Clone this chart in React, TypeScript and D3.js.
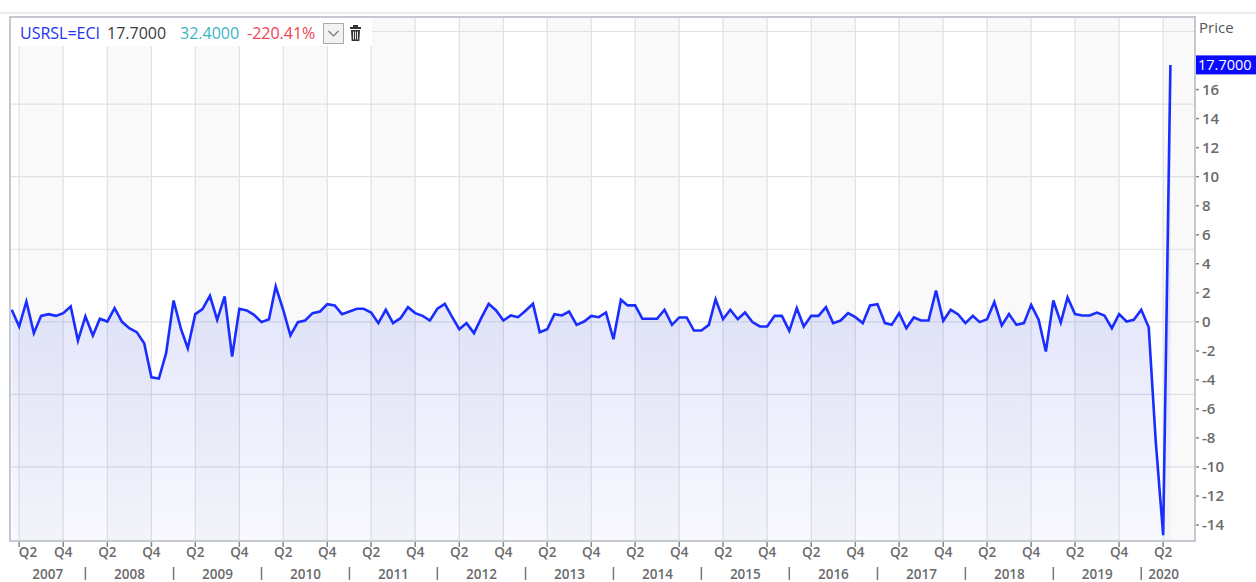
import React, { useRef, useEffect } from "react";
import * as d3 from "d3";

// US retail sales m/m %, monthly from Mar 2007
const startMonth = new Date(Date.UTC(2007, 2, 1));
const values = [
  0.83, -0.32, 1.4, -0.78, 0.41, 0.53, 0.41, 0.6, 1.06, -1.29,
  0.37, -0.94, 0.21, 0.02, 0.94, 0.0, -0.44, -0.71, -1.47, -3.82,
  -3.91, -2.16, 1.47, -0.51, -1.82, 0.53, 0.87, 1.79, 0.14, 1.75,
  -2.39, 0.9, 0.78, 0.48, -0.02, 0.18, 2.44, 0.83, -0.94, -0.02,
  0.09, 0.6, 0.71, 1.22, 1.13, 0.53, 0.71, 0.9, 0.9, 0.64,
  -0.09, 0.83, -0.09, 0.25, 1.01, 0.6, 0.41, 0.09, 0.9, 1.24,
  0.37, -0.51, -0.09, -0.78, 0.25, 1.24, 0.78, 0.09, 0.44, 0.32,
  0.76, 1.24, -0.71, -0.51, 0.53, 0.44, 0.71, -0.21, 0.02, 0.41,
  0.32, 0.64, -1.2, 1.52, 1.13, 1.13, 0.21, 0.21, 0.21, 0.83,
  -0.21, 0.3, 0.3, -0.6, -0.6, -0.21, 1.56, 0.18, 0.83, 0.18,
  0.64, -0.02, -0.32, -0.32, 0.41, 0.41, -0.62, 0.94, -0.32, 0.41,
  0.41, 1.01, -0.09, 0.09, 0.6, 0.32, -0.09, 1.13, 1.22, -0.09,
  -0.21, 0.6, -0.44, 0.3, 0.09, 0.09, 2.16, 0.07, 0.83, 0.53,
  -0.09, 0.41, -0.02, 0.18, 1.36, -0.25, 0.53, -0.21, -0.09, 1.17,
  0.14, -2.05, 1.47, -0.05, 1.68, 0.53, 0.44, 0.44, 0.64, 0.44,
  -0.44, 0.53, 0.02, 0.14, 0.83, -0.37, -8.2, -14.7, 17.7,
];
const yTicks = [-14, -12, -10, -8, -6, -4, -2, 0, 2, 4, 6, 8, 10, 12, 14, 16];
const yGrid = [-10, -5, 0, 5, 10, 15, 20];
const years = d3.range(2007, 2021);
const legend = [
  { text: "USRSL=ECI", color: "#2230f0" },
  { text: "17.7000", color: "#3a3a3a" },
  { text: "32.4000", color: "#3cb4c4" },
  { text: "-220.41%", color: "#ee4455" },
];
const lastLabel = "17.7000";

const W = 1256, H = 582;
const L = 10, R = 1195, T = 17, B = 541;
const FONT = "'Open Sans', 'Liberation Sans', sans-serif";

const App = () => {
  const ref = useRef(null);

  useEffect(() => {
    const svg = d3.select(ref.current);
    svg.selectAll("*").remove();

    const data = values.map((v, i) => ({ date: d3.utcMonth.offset(startMonth, i), v }));
    const x = d3.scaleUtc()
      .domain([data[0].date, data[data.length - 1].date])
      .range([11.7, 1170.4]);
    const y = d3.scaleLinear().domain([-15.1, 21]).range([B, T]);

    const quarterTicks = d3.utcMonth
      .range(new Date(Date.UTC(2007, 0, 1)), new Date(Date.UTC(2020, 6, 1)))
      .filter(d => d.getUTCMonth() === 3 || d.getUTCMonth() === 9)
      .filter(d => x(d) > L && x(d) < R);

    const defs = svg.append("defs");
    defs.append("clipPath").attr("id", "plot")
      .append("rect").attr("x", L).attr("y", T).attr("width", R - L).attr("height", B - T);
    const grad = defs.append("linearGradient").attr("id", "fillg")
      .attr("gradientUnits", "userSpaceOnUse")
      .attr("x1", 0).attr("x2", 0).attr("y1", y(2)).attr("y2", B);
    grad.append("stop").attr("offset", 0).attr("stop-color", "#2a3de0").attr("stop-opacity", 0.13);
    grad.append("stop").attr("offset", 1).attr("stop-color", "#2a3de0").attr("stop-opacity", 0.03);

    // top rule
    svg.append("line").attr("x1", 0).attr("x2", W).attr("y1", 13).attr("y2", 13)
      .attr("stroke", "#d4d6da").attr("stroke-width", 1);

    const plot = svg.append("g").attr("clip-path", "url(#plot)");
    plot.append("rect").attr("x", L).attr("y", T).attr("width", R - L).attr("height", B - T).attr("fill", "#fff");

    // Apr-Oct shaded columns
    plot.selectAll(".band").data(years).join("rect")
      .attr("x", yr => x(new Date(Date.UTC(yr, 3, 1))))
      .attr("width", yr => x(new Date(Date.UTC(yr, 9, 1))) - x(new Date(Date.UTC(yr, 3, 1))))
      .attr("y", T).attr("height", B - T)
      .attr("fill", "#f9f9fa");

    plot.selectAll(".vg").data(quarterTicks).join("line")
      .attr("x1", d => x(d)).attr("x2", d => x(d))
      .attr("y1", T).attr("y2", B)
      .attr("stroke", "#dfe1e5").attr("stroke-width", 1.2);
    plot.selectAll(".hg").data(yGrid).join("line")
      .attr("x1", L).attr("x2", R)
      .attr("y1", d => y(d)).attr("y2", d => y(d))
      .attr("stroke", "#dfe1e5").attr("stroke-width", 1.2);

    const area = d3.area<any>().x(d => x(d.date)).y0(B).y1(d => y(d.v));
    const line = d3.line<any>().x(d => x(d.date)).y(d => y(d.v));
    plot.append("path").datum(data).attr("d", area).attr("fill", "url(#fillg)");
    plot.append("path").datum(data).attr("d", line)
      .attr("fill", "none").attr("stroke", "#1a2dff").attr("stroke-width", 2.6)
      .attr("stroke-linejoin", "miter");

    // frame
    svg.append("rect").attr("x", L).attr("y", T).attr("width", R - L).attr("height", B - T)
      .attr("fill", "none").attr("stroke", "#c4c8cf").attr("stroke-width", 2);

    // right axis
    const ya = svg.append("g");
    ya.selectAll("line").data(yTicks).join("line")
      .attr("x1", R + 1).attr("x2", R + 4)
      .attr("y1", d => y(d)).attr("y2", d => y(d))
      .attr("stroke", "#888").attr("stroke-width", 1.5);
    ya.selectAll("text").data(yTicks).join("text")
      .attr("x", R + 7).attr("y", d => y(d)).attr("dy", "0.36em")
      .attr("font-family", FONT).attr("font-size", 15).attr("font-weight", 600)
      .attr("fill", "#6a6a6a").text(d => d);
    svg.append("text").attr("x", R + 4).attr("y", 33)
      .attr("font-family", FONT).attr("font-size", 15).attr("fill", "#555").text("Price");
    const last = data[data.length - 1];
    svg.append("rect").attr("x", R + 1).attr("y", y(last.v) - 9.5).attr("width", W - R - 1).attr("height", 19)
      .attr("fill", "#0a0aff");
    svg.append("text").attr("x", R + 3).attr("y", y(last.v)).attr("dy", "0.36em")
      .attr("font-family", FONT).attr("font-size", 14.5).attr("fill", "#fff").text(lastLabel);

    // bottom axis
    const xa = svg.append("g");
    xa.selectAll("line").data(quarterTicks).join("line")
      .attr("x1", d => x(d)).attr("x2", d => x(d))
      .attr("y1", B + 1).attr("y2", B + 6)
      .attr("stroke", "#888").attr("stroke-width", 1.5);
    xa.selectAll("text.q").data(quarterTicks).join("text")
      .attr("class", "q")
      .attr("x", d => Math.max(x(d), L + 18)).attr("y", 557)
      .attr("text-anchor", "middle")
      .attr("font-family", FONT).attr("font-size", 13.5).attr("font-weight", 600)
      .attr("fill", "#6a6a6a").text(d => (d.getUTCMonth() === 3 ? "Q2" : "Q4"));
    const yearStart = (yr: number) => x(new Date(Date.UTC(yr, 0, 1)));
    xa.selectAll("text.yr").data(years).join("text")
      .attr("class", "yr")
      .attr("x", yr => (Math.max(yearStart(yr), L) + Math.min(yearStart(yr + 1), R - 9)) / 2)
      .attr("y", 579)
      .attr("text-anchor", "middle")
      .attr("font-family", FONT).attr("font-size", 13.5).attr("font-weight", 600)
      .attr("fill", "#6a6a6a").text(yr => yr);
    xa.selectAll("line.sep").data(years.slice(1)).join("line")
      .attr("class", "sep")
      .attr("x1", yr => yearStart(yr)).attr("x2", yr => yearStart(yr))
      .attr("y1", 567).attr("y2", 580)
      .attr("stroke", "#777").attr("stroke-width", 1.5);

    // legend
    const lg = svg.append("g");
    lg.append("rect").attr("x", L + 1).attr("y", T + 1).attr("width", 361).attr("height", 28).attr("fill", "#fff");
    const lx = [20, 107, 180, 247];
    lg.selectAll("text").data(legend).join("text")
      .attr("x", (_, i) => lx[i]).attr("y", 39)
      .attr("font-family", FONT).attr("font-size", 16)
      .attr("fill", d => d.color).text(d => d.text);
    lg.append("rect").attr("x", 323.5).attr("y", 23.5).attr("width", 20).attr("height", 20)
      .attr("fill", "#f2f2f2").attr("stroke", "#aaa");
    lg.append("polyline").attr("points", "328.5,31 333.5,36 338.5,31")
      .attr("fill", "none").attr("stroke", "#777").attr("stroke-width", 1.2);
    const trash = lg.append("g").attr("fill", "#333");
    trash.append("rect").attr("x", 353).attr("y", 25).attr("width", 5).attr("height", 2);
    trash.append("rect").attr("x", 350).attr("y", 27).attr("width", 11).attr("height", 2);
    trash.append("path").attr("d", "M351,30 H360 L359.3,41 H351.7 Z");
    trash.append("g").attr("stroke", "#fff").attr("stroke-width", 0.9)
      .selectAll("line").data([353.5, 355.5, 357.5]).join("line")
      .attr("x1", d => d).attr("x2", d => d).attr("y1", 31.5).attr("y2", 39.5);
  }, []);

  return (
    <div style={{ position: "absolute", left: 0, top: 0, background: "#fff" }}>
      <svg ref={ref} width={W} height={H} style={{ display: "block" }} />
    </div>
  );
};

export default App;
